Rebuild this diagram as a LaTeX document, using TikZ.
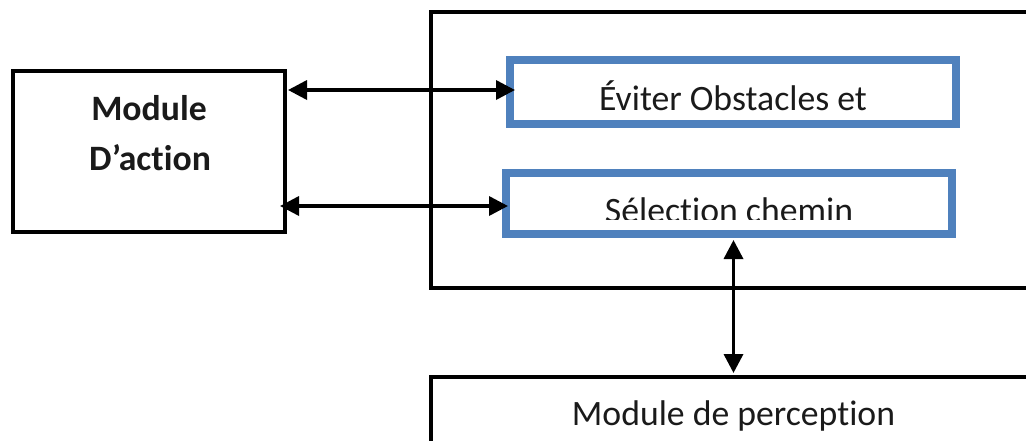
\documentclass[tikz,border=0pt]{standalone}
\usepackage{fontspec}
\setmainfont{Carlito}[Ligatures={NoCommon}]
\usetikzlibrary{arrows.meta}
\definecolor{boxblue}{HTML}{4F81BD}
\definecolor{ink}{HTML}{1A1A1A}
\begin{document}
\begin{tikzpicture}[x=1pt,y=-1pt,
  frame/.style={draw=black, line width=4pt, inner sep=0pt, outer sep=0pt},
  modbox/.style={draw=boxblue, line width=8pt, inner sep=0pt, outer sep=0pt},
  lbl/.style={inner sep=0pt, anchor=base, text=ink, font=\fontsize{35.7}{42}\selectfont},
  lblb/.style={lbl, font=\bfseries\fontsize{35.7}{42}\selectfont},
  link/.style={line width=3.5pt, {Triangle[length=19pt,width=19pt]}-{Triangle[length=19pt,width=19pt]}}
]
\clip (0,0) rectangle (1026,440);

% action module
\node[frame, minimum width=272pt, minimum height=161pt] (act) at (149,151.5) {};
\node[lblb] (actA) at (149,120) {Module};
\node[lblb] (actB) at (150,170) {D’action};

% navigation block with its two sub-modules
\node[frame, minimum width=605pt, minimum height=276pt] (ctrl) at (733.5,150) {};
\node[modbox, minimum width=446pt, minimum height=64pt] (avoid) at (733,92) {};
\node[lbl] (avoidT) at (733,110) {Éviter Obstacles et};
\node[modbox, minimum width=446.5pt, minimum height=61pt] (path) at (728.75,203.5) {};
\begin{scope}
  \clip (500,160) rectangle (960,219);
  \node[lbl] (pathT) at (729,222) {Sélection chemin};
\end{scope}

% perception module
\node[frame, minimum width=605pt, minimum height=93pt] (perc) at (733.5,423.5) {};
\node[lbl] (percT) at (733.5,425) {Module de perception};

% links
\draw[link] ([shift={(3pt,2pt)}]act.east |- avoid.west) -- ([shift={(5pt,2pt)}]avoid.west);
\draw[link] ([shift={(-5pt,-2.5pt)}]act.east |- path.west) -- ([shift={(2.5pt,-2.5pt)}]path.west);
\draw[link] ([yshift=-6pt]perc.north |- path.south) -- ([yshift=4pt]perc.north);
\end{tikzpicture}
\end{document}
